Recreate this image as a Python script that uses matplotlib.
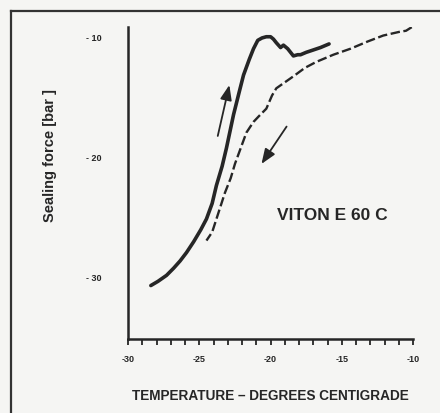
import matplotlib
matplotlib.use("Agg")
import matplotlib.pyplot as plt
from matplotlib.lines import Line2D

plt.rcParams['font.family'] = ['Liberation Sans', 'DejaVu Sans']
plt.rcParams['font.weight'] = 'bold'

# heating run (solid, arrow up)
heat_t = [-28.4, -27.9, -27.3, -26.8, -26.35, -25.9, -25.4, -24.9, -24.5, -24.1,
          -23.8, -23.4, -23.1, -22.85, -22.6, -22.2, -21.9, -21.5, -21.2, -20.9,
          -20.6, -20.3, -20.0, -19.8, -19.6, -19.3, -19.1, -18.8, -18.6, -18.4,
          -18.1, -17.9, -17.5, -17.0, -16.5, -15.9]
heat_f = [-30.75, -30.4, -29.9, -29.3, -28.7, -28.0, -27.1, -26.1, -25.2, -23.9,
          -22.4, -20.8, -19.3, -17.9, -16.5, -14.6, -13.2, -11.9, -11.0, -10.3,
          -10.1, -10.0, -10.0, -10.2, -10.5, -10.9, -10.7, -11.0, -11.3, -11.6,
          -11.5, -11.5, -11.3, -11.1, -10.9, -10.6]

# cooling run (dashed, arrow down)
cool_t = [-10.1, -10.5, -11.0, -12.1, -13.2, -14.4, -15.6, -16.8, -17.6, -18.4,
          -19.0, -19.6, -19.9, -20.3, -20.8, -21.2, -21.7, -22.1, -22.5, -22.8,
          -23.2, -23.5, -23.8, -24.1, -24.5]
cool_f = [-9.2, -9.5, -9.6, -9.9, -10.4, -11.0, -11.5, -12.1, -12.6, -13.3,
          -13.8, -14.3, -14.9, -16.0, -16.6, -17.1, -18.0, -19.3, -20.6, -21.8,
          -23.0, -24.1, -25.2, -26.3, -27.0]

x_ticks = [-30, -25, -20, -15, -10]
y_ticks = [-10, -20, -30]
y_labels = ['- 10', '- 20', '- 30']

ink = '#262626'
paper = '#f5f5f3'

fig = plt.figure(figsize=(4.4, 4.14), dpi=100, facecolor=paper)
ax = fig.add_axes([0.291, 0.179, 0.648, 0.753])
ax.set_facecolor(paper)

ax.plot(heat_t, heat_f, color=ink, lw=2.6, solid_capstyle='round')
ax.plot(cool_t, cool_f, color=ink, lw=1.7, linestyle=(0, (4, 1.5)))

ax.set_xlim(-30, -10)
ax.set_ylim(-35.2, -9.2)

for s in ['top', 'right']:
    ax.spines[s].set_visible(False)
for s in ['left', 'bottom']:
    ax.spines[s].set_linewidth(1.8)
    ax.spines[s].set_color(ink)

ax.set_xticks(x_ticks)
ax.set_xticklabels([str(v) for v in x_ticks], fontsize=6.5, fontweight='bold', color=ink)
ax.set_xticks(range(-30, -9), minor=True)
ax.tick_params(axis='x', which='both', direction='out', length=4, width=1.3, color=ink, pad=7)
ax.set_yticks(y_ticks)
ax.set_yticklabels(y_labels, fontsize=6.5, fontweight='bold', color=ink)
ax.tick_params(axis='y', length=0, pad=19)

ax.set_xlabel('TEMPERATURE – DEGREES CENTIGRADE', fontsize=9.8, fontweight='bold',
              color=ink, labelpad=18)
ax.set_ylabel('Sealing force [bar ]', fontsize=10.5, fontweight='bold', color=ink)
ax.yaxis.set_label_coords(-0.25, 0.59)

ax.text(-15.7, -24.8, 'VITON E 60 C', fontsize=12.5, fontweight='bold', color=ink,
        ha='center', va='center')

ax.annotate('', xy=(-22.85, -13.8), xytext=(-23.75, -18.5),
            arrowprops=dict(arrowstyle='-|>,head_length=0.9,head_width=0.35', color=ink, lw=1.3))
ax.annotate('', xy=(-20.75, -20.8), xytext=(-18.77, -17.3),
            arrowprops=dict(arrowstyle='-|>,head_length=0.9,head_width=0.35', color=ink, lw=1.3))

# scanned page frame
fig.add_artist(Line2D([0.025, 1.0], [0.971, 0.971], color='#333333', lw=1.6))
fig.add_artist(Line2D([0.025, 0.025], [0.0, 0.971], color='#333333', lw=1.6))

fig.savefig('out.png', dpi=100, facecolor=paper)
